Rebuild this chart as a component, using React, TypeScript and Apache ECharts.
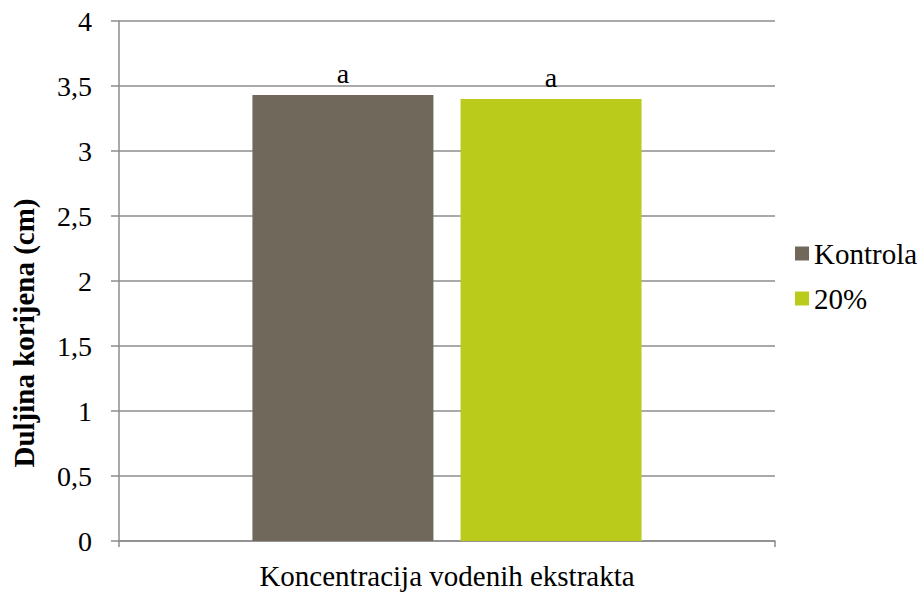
import React, { useEffect, useRef } from "react";
import * as echarts from "echarts";

const categories = ["Koncentracija vodenih ekstrakta"];
const seriesNames = ["Kontrola", "20%"];
const kontrolaValues = [3.43];
const pct20Values = [3.4];
const significance = ["a", "a"];
const yTicks = [0, 0.5, 1, 1.5, 2, 2.5, 3, 3.5, 4];

const FONT = "Times New Roman, Liberation Serif, serif";
const GRID_COLOR = "#8c8c8c";

export default function App() {
  const ref = useRef<HTMLDivElement>(null);
  useEffect(() => {
    document.body.style.margin = "0";
    if (!ref.current) return;
    const chart = echarts.init(ref.current, null, { renderer: "svg" });
    const labelFor = (i: number) => ({
      show: true,
      position: "top" as const,
      distance: 8,
      formatter: () => significance[i],
      color: "#000",
      fontFamily: FONT,
      fontSize: 28,
    });
    chart.setOption({
      animation: false,
      backgroundColor: "#fff",
      textStyle: { fontFamily: FONT },
      grid: {
        left: 119,
        right: 147,
        top: 21,
        bottom: 53,
        containLabel: false,
        outerBoundsMode: "none",
      },
      legend: {
        orient: "vertical",
        left: 790,
        top: 234,
        itemWidth: 14,
        itemHeight: 14,
        itemGap: 16,
        icon: "rect",
        textStyle: { fontFamily: FONT, fontSize: 29, color: "#000" },
        data: seriesNames,
      },
      xAxis: {
        type: "category",
        data: categories,
        name: categories[0],
        nameLocation: "middle",
        nameGap: 20,
        nameTextStyle: { fontFamily: FONT, fontSize: 29, color: "#000" },
        axisLabel: { show: false },
        axisLine: { lineStyle: { color: GRID_COLOR, width: 1.5 } },
        axisTick: { show: true, length: 6, lineStyle: { color: GRID_COLOR, width: 1.5 } },
      },
      yAxis: {
        type: "value",
        min: 0,
        max: 4,
        interval: 0.5,
        name: "Duljina korijena (cm)",
        nameLocation: "middle",
        nameGap: 81,
        nameTextStyle: {
          fontFamily: FONT,
          fontSize: 29,
          fontWeight: "bold",
          color: "#000",
          padding: [0, 104, 0, 0],
        },
        axisLine: { show: true, lineStyle: { color: GRID_COLOR, width: 1.5 } },
        axisTick: { show: true, length: 8, lineStyle: { color: GRID_COLOR, width: 1.5 } },
        axisLabel: {
          fontFamily: FONT,
          fontSize: 28,
          color: "#000",
          margin: 27,
          formatter: (v: number) => (yTicks.includes(v) ? String(v).replace(".", ",") : ""),
        },
        splitLine: { lineStyle: { color: GRID_COLOR, width: 1.5 } },
      },
      series: [
        {
          name: seriesNames[0],
          type: "bar",
          data: kontrolaValues,
          barWidth: 181,
          barGap: "15%",
          itemStyle: { color: "#71685C" },
          label: labelFor(0),
        },
        {
          name: seriesNames[1],
          type: "bar",
          data: pct20Values,
          barWidth: 181,
          barGap: "15%",
          itemStyle: { color: "#BACB1C" },
          label: labelFor(1),
        },
      ],
    });
    return () => chart.dispose();
  }, []);
  return <div ref={ref} style={{ width: 922, height: 594 }} />;
}
